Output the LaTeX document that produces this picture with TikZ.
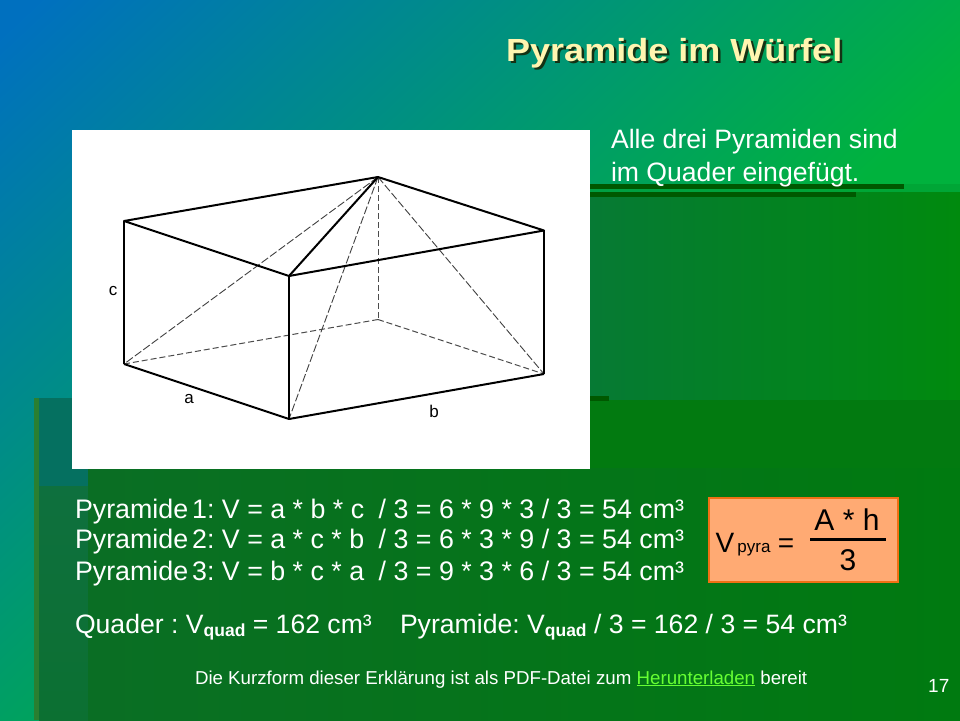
\documentclass[tikz,border=0pt]{standalone}
\usepackage{fontspec}
\setmainfont{Liberation Sans}
\newfontfamily\titlefont[FakeStretch=1.125]{Liberation Sans}
\pgfdeclarefunctionalshading{slidebg}{\pgfpointorigin}{\pgfpoint{100bp}{100bp}}{}{
 100 div 1 exch sub 0.8 mul exch 100 div add 0.47 sub 0.53 div
 dup 0 lt {pop 0} if dup 1 gt {pop 1} if
 0 exch dup 0.26 mul 0.44 add exch 0.51 mul 0.75 exch sub
}
\definecolor{barA}{RGB}{0,88,0}
\definecolor{titleC}{RGB}{255,245,176}
\definecolor{shadowC}{RGB}{20,50,20}
\definecolor{boxfill}{RGB}{255,170,115}
\definecolor{boxedge}{RGB}{240,112,20}
\definecolor{linkC}{RGB}{102,255,51}
\definecolor{midL}{RGB}{6,122,52}
\definecolor{midR}{RGB}{0,138,14}
\definecolor{lowL}{RGB}{10,110,36}
\definecolor{lowR}{RGB}{0,122,16}
\definecolor{tealA}{RGB}{5,112,96}
\definecolor{tealB}{RGB}{14,112,62}
\definecolor{tealC}{RGB}{12,112,50}
\definecolor{olive}{RGB}{42,127,48}
\definecolor{stripC}{RGB}{2,122,16}
\definecolor{topstrip}{RGB}{0,158,50}
\tikzset{
 x=1pt,y=-1pt,
 txt/.style={anchor=base west,inner sep=0pt,outer sep=0pt,text=white,font=\fontsize{26.6}{30}\selectfont},
 wide/.style={txt,font=\fontsize{26.8}{30}\selectfont},
 small/.style={txt,font=\fontsize{18.7}{22}\selectfont},
 lab/.style={anchor=base,inner sep=0pt,text=black,font=\fontsize{17}{19}\selectfont},
 fml/.style={anchor=base,inner sep=0pt,text=black},
 ttl/.style={anchor=base west,inner sep=0pt,font=\fontsize{32}{36}\titlefont\bfseries\selectfont},
 edgeS/.style={draw=black,line width=2pt},
 edgeD/.style={draw=black!70,line width=1pt,dash pattern=on 6pt off 3pt},
 edgeT/.style={draw=black!75,line width=.9pt,dash pattern=on 8pt off 2.5pt},
}
\newcommand{\subq}{\raisebox{-3pt}{\fontsize{17.5}{18}\selectfont\bfseries quad}}
\frenchspacing
\begin{document}
\begin{tikzpicture}
\useasboundingbox (0,0) rectangle (960,720);
\shade[shading=slidebg] (0,0) rectangle (960,720);
% background squares
\fill[topstrip,opacity=.6] (590,184) rectangle (960,192);
\shade[left color=midL,right color=midR] (590,192) rectangle (960,400);
\fill[stripC] (590,400) rectangle (960,468);
\fill[tealA] (39,398) rectangle (590,468);
\fill[tealA] (39,468) rectangle (88,486);
\shade[top color=tealB,bottom color=tealC] (39,486) rectangle (88,720);
\shade[left color=lowL,right color=lowR] (88,468) rectangle (960,720);
\fill[olive] (34,398) rectangle (39,720);
\fill[barA] (590,184) rectangle (904,189);
\fill[barA] (590,192) rectangle (856,197);
\fill[barA] (590,396) rectangle (609,401);
% picture
\node[fill=white,minimum width=518pt,minimum height=339.5pt,inner sep=0pt,outer sep=0pt,anchor=north west] (photo) at (72,129.5) {};
\coordinate (apex) at (378,177);
\coordinate (tl) at (124,221);
\coordinate (tf) at (289,276);
\coordinate (tr) at (544,230.5);
\coordinate (bl) at (124,364);
\coordinate (bf) at (289,419);
\coordinate (br) at (544,374);
\coordinate (bb) at (378,319.5);
\draw[edgeD] (apex) -- (bb);
\draw[edgeD] (bl) -- (bb);
\draw[edgeD] (bb) -- (br);
\draw[edgeT] (apex) -- (bl);
\draw[edgeT] (apex) -- (bf);
\draw[edgeT] (apex) -- (br);
\draw[edgeS,line join=round] (tl) -- (apex) -- (tr) -- (tf) -- cycle;
\draw[edgeS] (apex) -- (tf);
\draw[edgeS] (tl) -- (bl);
\draw[edgeS] (tf) -- (bf);
\draw[edgeS] (tr) -- (br);
\draw[edgeS,line join=round] (bl) -- (bf) -- (br);
\node[lab] (lc) at (113,295) {c};
\node[lab] (la) at (189,403) {a};
\node[lab] (lb) at (434,417) {b};
% title
\node[ttl,text=shadowC] (titleS) at (508.5,63) {Pyramide im Würfel};
\node[ttl,text=titleC] (title) at (506,61) {Pyramide im Würfel};
% side text
\node[txt] (s1) at (611,148) {Alle drei Pyramiden sind};
\node[txt] (s2) at (611,181) {im Quader eingefügt.};
% formulas
\node[wide] (p1) at (75,518) {Pyramide\hspace{4pt}1: V = a * b * c\hspace{7pt} / 3 = 6 * 9 * 3 / 3 = 54 cm³};
\node[wide] (p2) at (75,548) {Pyramide\hspace{4pt}2: V = a * c * b\hspace{7pt} / 3 = 6 * 3 * 9 / 3 = 54 cm³};
\node[wide] (p3) at (75,580) {Pyramide\hspace{4pt}3: V = b * c * a\hspace{7pt} / 3 = 9 * 3 * 6 / 3 = 54 cm³};
\node[txt] (q1) at (75,633) {Quader : V\subq{} = 162 cm³};
\node[txt] (q2) at (400,633) {Pyramide: V\subq{} / 3 = 162 / 3 = 54 cm³};
\node[small] (foot) at (195,684) {Die Kurzform dieser Erklärung ist als PDF-Datei zum \textcolor{linkC}{\underline{Herunterladen}} bereit};
\node[anchor=base west,inner sep=0pt,text=white,font=\fontsize{19}{20}\selectfont] (num) at (928,692) {17};
% formula box
\node[draw=boxedge,line width=2.5pt,fill=boxfill,minimum width=189pt,minimum height=84pt,inner sep=0pt,outer sep=0pt,anchor=north west] (fbox) at (709,498) {};
\node[fml,font=\fontsize{28}{32}\selectfont] (fV) at (725,552) {V};
\node[fml,font=\fontsize{17}{18}\selectfont] (fsub) at (754,552) {pyra};
\node[fml,font=\fontsize{28}{30}\selectfont] (feq) at (786,552) {=};
\node[fml,font=\fontsize{30}{32}\selectfont] (fnum) at (847,530) {A * h};
\node[fml,font=\fontsize{30}{32}\selectfont] (fden) at (848,570) {3};
\coordinate (barL) at (810,539.5);
\coordinate (barR) at (886,539.5);
\draw[black,line width=3pt] (barL) -- (barR);
\end{tikzpicture}
\end{document}
